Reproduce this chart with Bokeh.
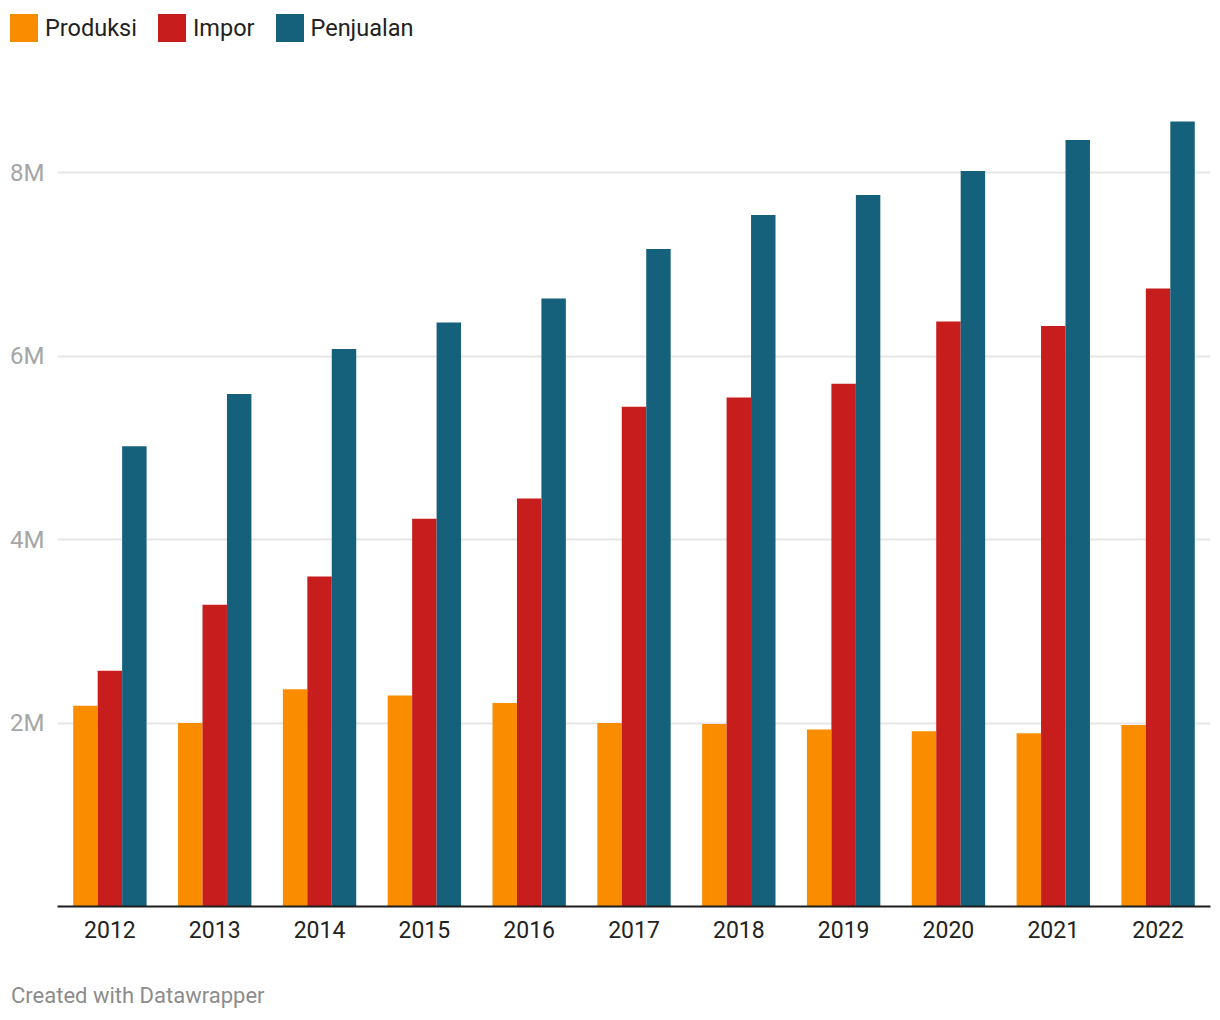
from bokeh.plotting import figure
from bokeh.models import (ColumnDataSource, FactorRange, Range1d, FixedTicker, Div)
from bokeh.layouts import column
from bokeh.transform import dodge
from bokeh.embed import file_html
from bokeh.resources import INLINE

years = ["2012", "2013", "2014", "2015", "2016", "2017", "2018", "2019", "2020", "2021", "2022"]
produksi = [2.19, 2.00, 2.37, 2.30, 2.22, 2.00, 1.99, 1.93, 1.91, 1.89, 1.98]
impor = [2.57, 3.29, 3.60, 4.23, 4.45, 5.45, 5.55, 5.70, 6.38, 6.33, 6.74]
penjualan = [5.02, 5.59, 6.08, 6.37, 6.63, 7.17, 7.54, 7.76, 8.02, 8.36, 8.56]
series_names = ["Produksi", "Impor", "Penjualan"]
colors = ["#fa8c00", "#c71e1d", "#15607a"]
y_ticks = [2e6, 4e6, 6e6, 8e6]
y_tick_labels = ["2M", "4M", "6M", "8M"]
footer_text = "Created with Datawrapper"

FONT = "Roboto"
W = 1212

# ---------- header (legend) ----------
items = "".join(
    f'<div style="display:flex;align-items:center;margin-right:21px;">'
    f'<span style="display:inline-block;width:28px;height:28px;background:{c};margin-right:7px;"></span>'
    f'<span style="font-family:{FONT};font-size:23.5px;line-height:28px;color:#222222;">{n}</span>'
    f'</div>'
    for n, c in zip(series_names, colors)
)
header = Div(
    text=f'<div style="display:flex;flex-direction:row;padding-left:10px;padding-top:14px;">{items}</div>',
    width=W, height=100, margin=0,
)

# ---------- main chart ----------
src = ColumnDataSource(dict(
    year=years,
    produksi=[v * 1e6 for v in produksi],
    impor=[v * 1e6 for v in impor],
    penjualan=[v * 1e6 for v in penjualan],
))

p = figure(
    x_range=FactorRange(*years, range_padding=0),
    y_range=Range1d(0, 8.79e6),
    frame_width=1153, frame_height=806,
    min_border_left=57, min_border_right=2, min_border_top=0, min_border_bottom=60,
    output_backend="svg", toolbar_location=None,
    background_fill_color="white", border_fill_color="white",
    outline_line_color=None, margin=0,
)

bw = 0.2333
for i, (col, c) in enumerate(zip(["produksi", "impor", "penjualan"], colors)):
    p.vbar(x=dodge("year", (i - 1) * bw, range=p.x_range), top=col, width=bw,
           source=src, fill_color=c, line_color=None)

p.xgrid.grid_line_color = None
p.ygrid.ticker = FixedTicker(ticks=y_ticks)
p.ygrid.grid_line_color = "#e6e6e6"
p.ygrid.grid_line_width = 2

p.yaxis.ticker = FixedTicker(ticks=y_ticks)
p.yaxis.major_label_overrides = {t: l for t, l in zip(y_ticks, y_tick_labels)}
p.yaxis.axis_line_color = None
p.yaxis.major_tick_line_color = None
p.yaxis.major_tick_out = 0
p.yaxis.minor_tick_line_color = None
p.yaxis.minor_tick_out = 0
p.yaxis.major_label_text_font = FONT
p.yaxis.major_label_text_font_size = "24px"
p.yaxis.major_label_text_color = "#a6a6a6"
p.yaxis.major_label_standoff = 13

p.xaxis.axis_line_color = "#1d1d1d"
p.xaxis.axis_line_width = 2
p.xaxis.major_tick_line_color = None
p.xaxis.major_tick_out = 0
p.xaxis.minor_tick_line_color = None
p.xaxis.minor_tick_out = 0
p.xaxis.major_label_text_font = FONT
p.xaxis.major_label_text_font_size = "23px"
p.xaxis.major_label_text_color = "#222222"
p.xaxis.major_label_standoff = 14

# ---------- footer ----------
footer = Div(
    text=f'<div style="font-family:{FONT};font-size:22px;color:#8c8c8c;'
         f'padding-left:11px;padding-top:19px;line-height:22px;">{footer_text}</div>',
    width=W, height=50, margin=0,
)

layout = column(header, p, footer, spacing=0)
open("out.html", "w").write(file_html(layout, INLINE))
